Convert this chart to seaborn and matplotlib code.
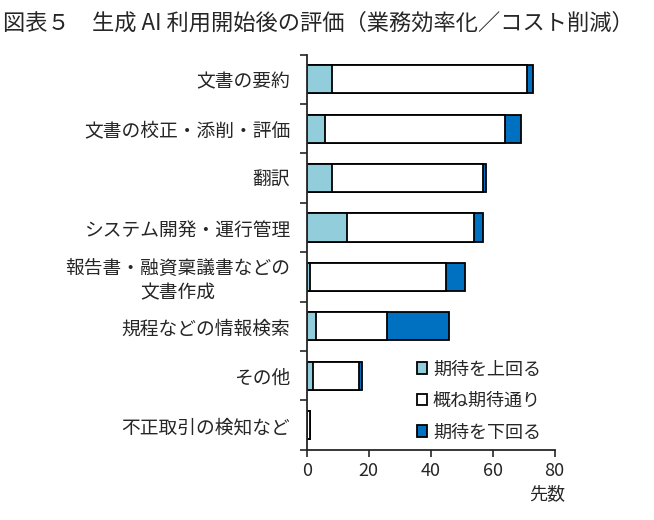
import matplotlib
matplotlib.use("Agg")
import matplotlib.pyplot as plt
from matplotlib.patches import Patch
import numpy as np
import pandas as pd
import seaborn as sns

categories = ["文書の要約", "文書の校正・添削・評価", "翻訳", "システム開発・運行管理",
              "報告書・融資稟議書などの\n文書作成", "規程などの情報検索", "その他", "不正取引の検知など"]
above = [8, 6, 8, 13, 1, 3, 2, 0]
as_expected = [63, 58, 49, 41, 44, 23, 15, 1]
below = [2, 5, 1, 3, 6, 20, 1, 0]
series_names = ["期待を上回る", "概ね期待通り", "期待を下回る"]
colors = ["#92cddc", "#ffffff", "#0070c0"]

sns.set_style("ticks")
plt.rcParams['font.family'] = ['Noto Sans CJK JP', 'DejaVu Sans']

df = pd.DataFrame({"項目": categories, "上": above, "通り": as_expected, "下": below})
df["c1"] = df["上"]
df["c2"] = df["上"] + df["通り"]
df["c3"] = df["c2"] + df["下"]

fig = plt.figure(figsize=(6.54, 5.2), dpi=100)
ax = fig.add_axes([0.469, 0.135, 0.379, 0.76])

# overlay cumulative bars, longest first
for col, c in zip(["c3", "c2", "c1"], colors[::-1]):
    sns.barplot(data=df, x=col, y="項目", color=c, edgecolor="black", linewidth=1.3,
                width=0.57, saturation=1, ax=ax, orient="h")

ax.set_xlim(0, 80)
ax.set_ylim(7.5, -0.5)
ax.set_xticks([0, 20, 40, 60, 80])
ax.set_ylabel("")
ax.set_xlabel("先数", fontsize=13)
ax.xaxis.set_label_coords(0.97, -0.09)
ax.xaxis.label.set_va("top")
ax.tick_params(axis="x", labelsize=13, length=5, width=1.2, direction="out")
ax.tick_params(axis="y", which="major", length=0, labelsize=13.5, pad=12)
ax.set_yticks(np.arange(-0.5, 8, 1), minor=True)
ax.tick_params(axis="y", which="minor", length=5, width=1.2, direction="out")
for lab in ax.get_yticklabels():
    lab.set_multialignment("center")
sns.despine(ax=ax)
ax.spines["left"].set_linewidth(1.3)
ax.spines["bottom"].set_linewidth(1.3)

handles = [Patch(facecolor=c, edgecolor="black", linewidth=1.3) for c in colors]
ax.legend(handles, series_names, loc="lower right", bbox_to_anchor=(1.01, -0.02), frameon=False,
          fontsize=13, handlelength=0.6, handleheight=0.6, handletextpad=0.3, labelspacing=0.75)

fig.text(0.005, 0.955, "図表５　生成 AI 利用開始後の評価（業務効率化／コスト削減）", fontsize=16, va="center")

fig.savefig("out.png", dpi=100)
